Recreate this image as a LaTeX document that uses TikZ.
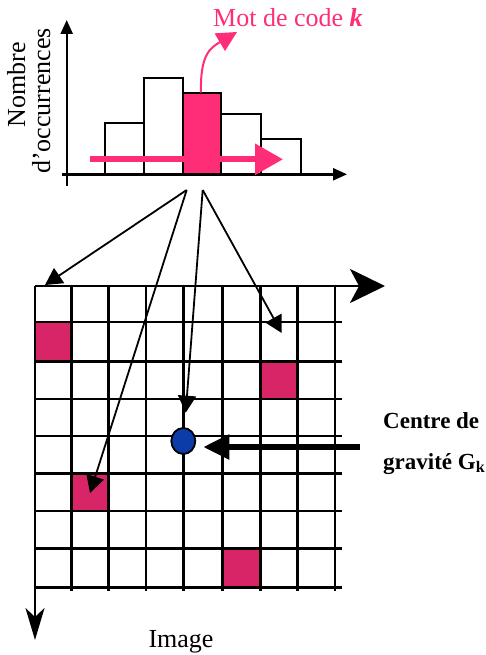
\documentclass[tikz,border=0pt]{standalone}
\usepackage{fontspec}
\setmainfont{Liberation Serif}
\usetikzlibrary{arrows.meta,shapes.geometric}
\definecolor{hotpink}{RGB}{255,45,120}
\definecolor{sqpink}{RGB}{215,37,103}
\definecolor{gblue}{RGB}{12,60,168}
\begin{document}
\begin{tikzpicture}[x=1pt,y=-1pt,
  txt/.style={inner sep=0pt, font=\fontsize{26}{30}\selectfont},
  btxt/.style={inner sep=0pt, font=\fontsize{23}{27}\selectfont\bfseries},
  gridline/.style={line width=2.6pt},
  barbox/.style={draw, line width=2pt, fill=white},
  axis/.style={line width=2.4pt, -{Triangle[length=14pt,width=12pt]}},
  conn/.style={line width=1.8pt, -{Triangle[length=17pt,width=18pt]}},
  cell/.style={fill=sqpink},
]
\useasboundingbox (0,0) rectangle (486,655);

% ---------- histogram ----------
\draw[barbox] (105,174.3) rectangle (144.3,123.3);
\draw[barbox] (144.3,174.3) rectangle (183.3,78.3);
\draw[barbox, fill=hotpink] (183.3,174.3) rectangle (221,92.7);
\draw[barbox] (221,174.3) rectangle (261,114);
\draw[barbox] (261,174.3) rectangle (300.7,139.3);
\coordinate (ya0) at (66.7,186);
\coordinate (ya1) at (66.7,20);
\coordinate (xa0) at (62,174.3);
\coordinate (xa1) at (347,174.3);
\draw[axis] (ya0) -- (ya1);
\draw[axis] (xa0) -- (xa1);

\coordinate (pa0) at (90,159.3);
\coordinate (pa1) at (283,159.3);
\draw[hotpink, line width=6pt, -{Triangle[length=28pt,width=30pt]}] (pa0) -- (pa1);

\coordinate (cb) at (201,92.7);
\coordinate (ct) at (237,32);
\draw[hotpink, line width=2pt, -{Triangle[length=20pt,width=20pt]}]
  (cb) .. controls (200,55) and (210,48) .. (ct);

\node[txt, anchor=base west, text=hotpink] (mot) at (213,27) {Mot de code \textbf{\textit{k}}};
\node[txt, rotate=90, anchor=base] (lab1) at (25,85) {Nombre};
\node[txt, rotate=90, anchor=base] (lab2) at (50,101) {d’occurrences};

% ---------- image grid ----------
\fill[cell] (35,322) rectangle (71.7,361.7);
\fill[cell] (260.5,361.7) rectangle (297.7,399);
\fill[cell] (71.7,473.3) rectangle (108.3,511);
\fill[cell] (222.5,548.3) rectangle (260.5,587.7);

\foreach \y in {322,361.7,399,436,473.3,511,548.3,587.7}
  \draw[gridline] (34,\y) -- (342,\y);
\foreach \x in {71.7,108.3,146,183.3,222.5,260.5,297.7,335}
  \draw[gridline] (\x,286) -- (\x,591);

\coordinate (o) at (35,286);
\coordinate (xe) at (385,286);
\coordinate (ye) at (35,640);
\draw[gridline, -{Stealth[length=35pt,width=34pt,inset=9pt]}] (o) -- (xe);
\draw[gridline, -{Stealth[length=32pt,width=19pt,inset=9pt]}] (o) -- (ye);

\node[draw, fill=gblue, line width=1.8pt, ellipse, minimum width=24pt,
      minimum height=26pt, inner sep=0pt] (G) at (183.3,441) {};

% ---------- connectors ----------
\coordinate (h1) at (186.7,190);
\coordinate (h2) at (202.7,190);
\coordinate (t1) at (45,285);
\coordinate (t2) at (90,493);
\coordinate (t3) at (185.7,412.7);
\coordinate (t4) at (281.7,333);
\draw[conn] (h1) -- (t1);
\draw[conn] (h1) -- (t2);
\draw[conn] (h2) -- (t3);
\draw[conn] (h2) -- (t4);

\coordinate (gs) at (360,447);
\coordinate (gt) at (203.3,447);
\draw[line width=5.7pt, -{Triangle[length=26pt,width=24pt]}] (gs) -- (gt);

\node[btxt, anchor=base west] (c1) at (383,428) {Centre de};
\node[btxt, anchor=base west] (c2) at (383,469) {gravité G\textsubscript{k}};

\node[txt, anchor=base] (img) at (181,647) {Image};
\end{tikzpicture}
\end{document}
